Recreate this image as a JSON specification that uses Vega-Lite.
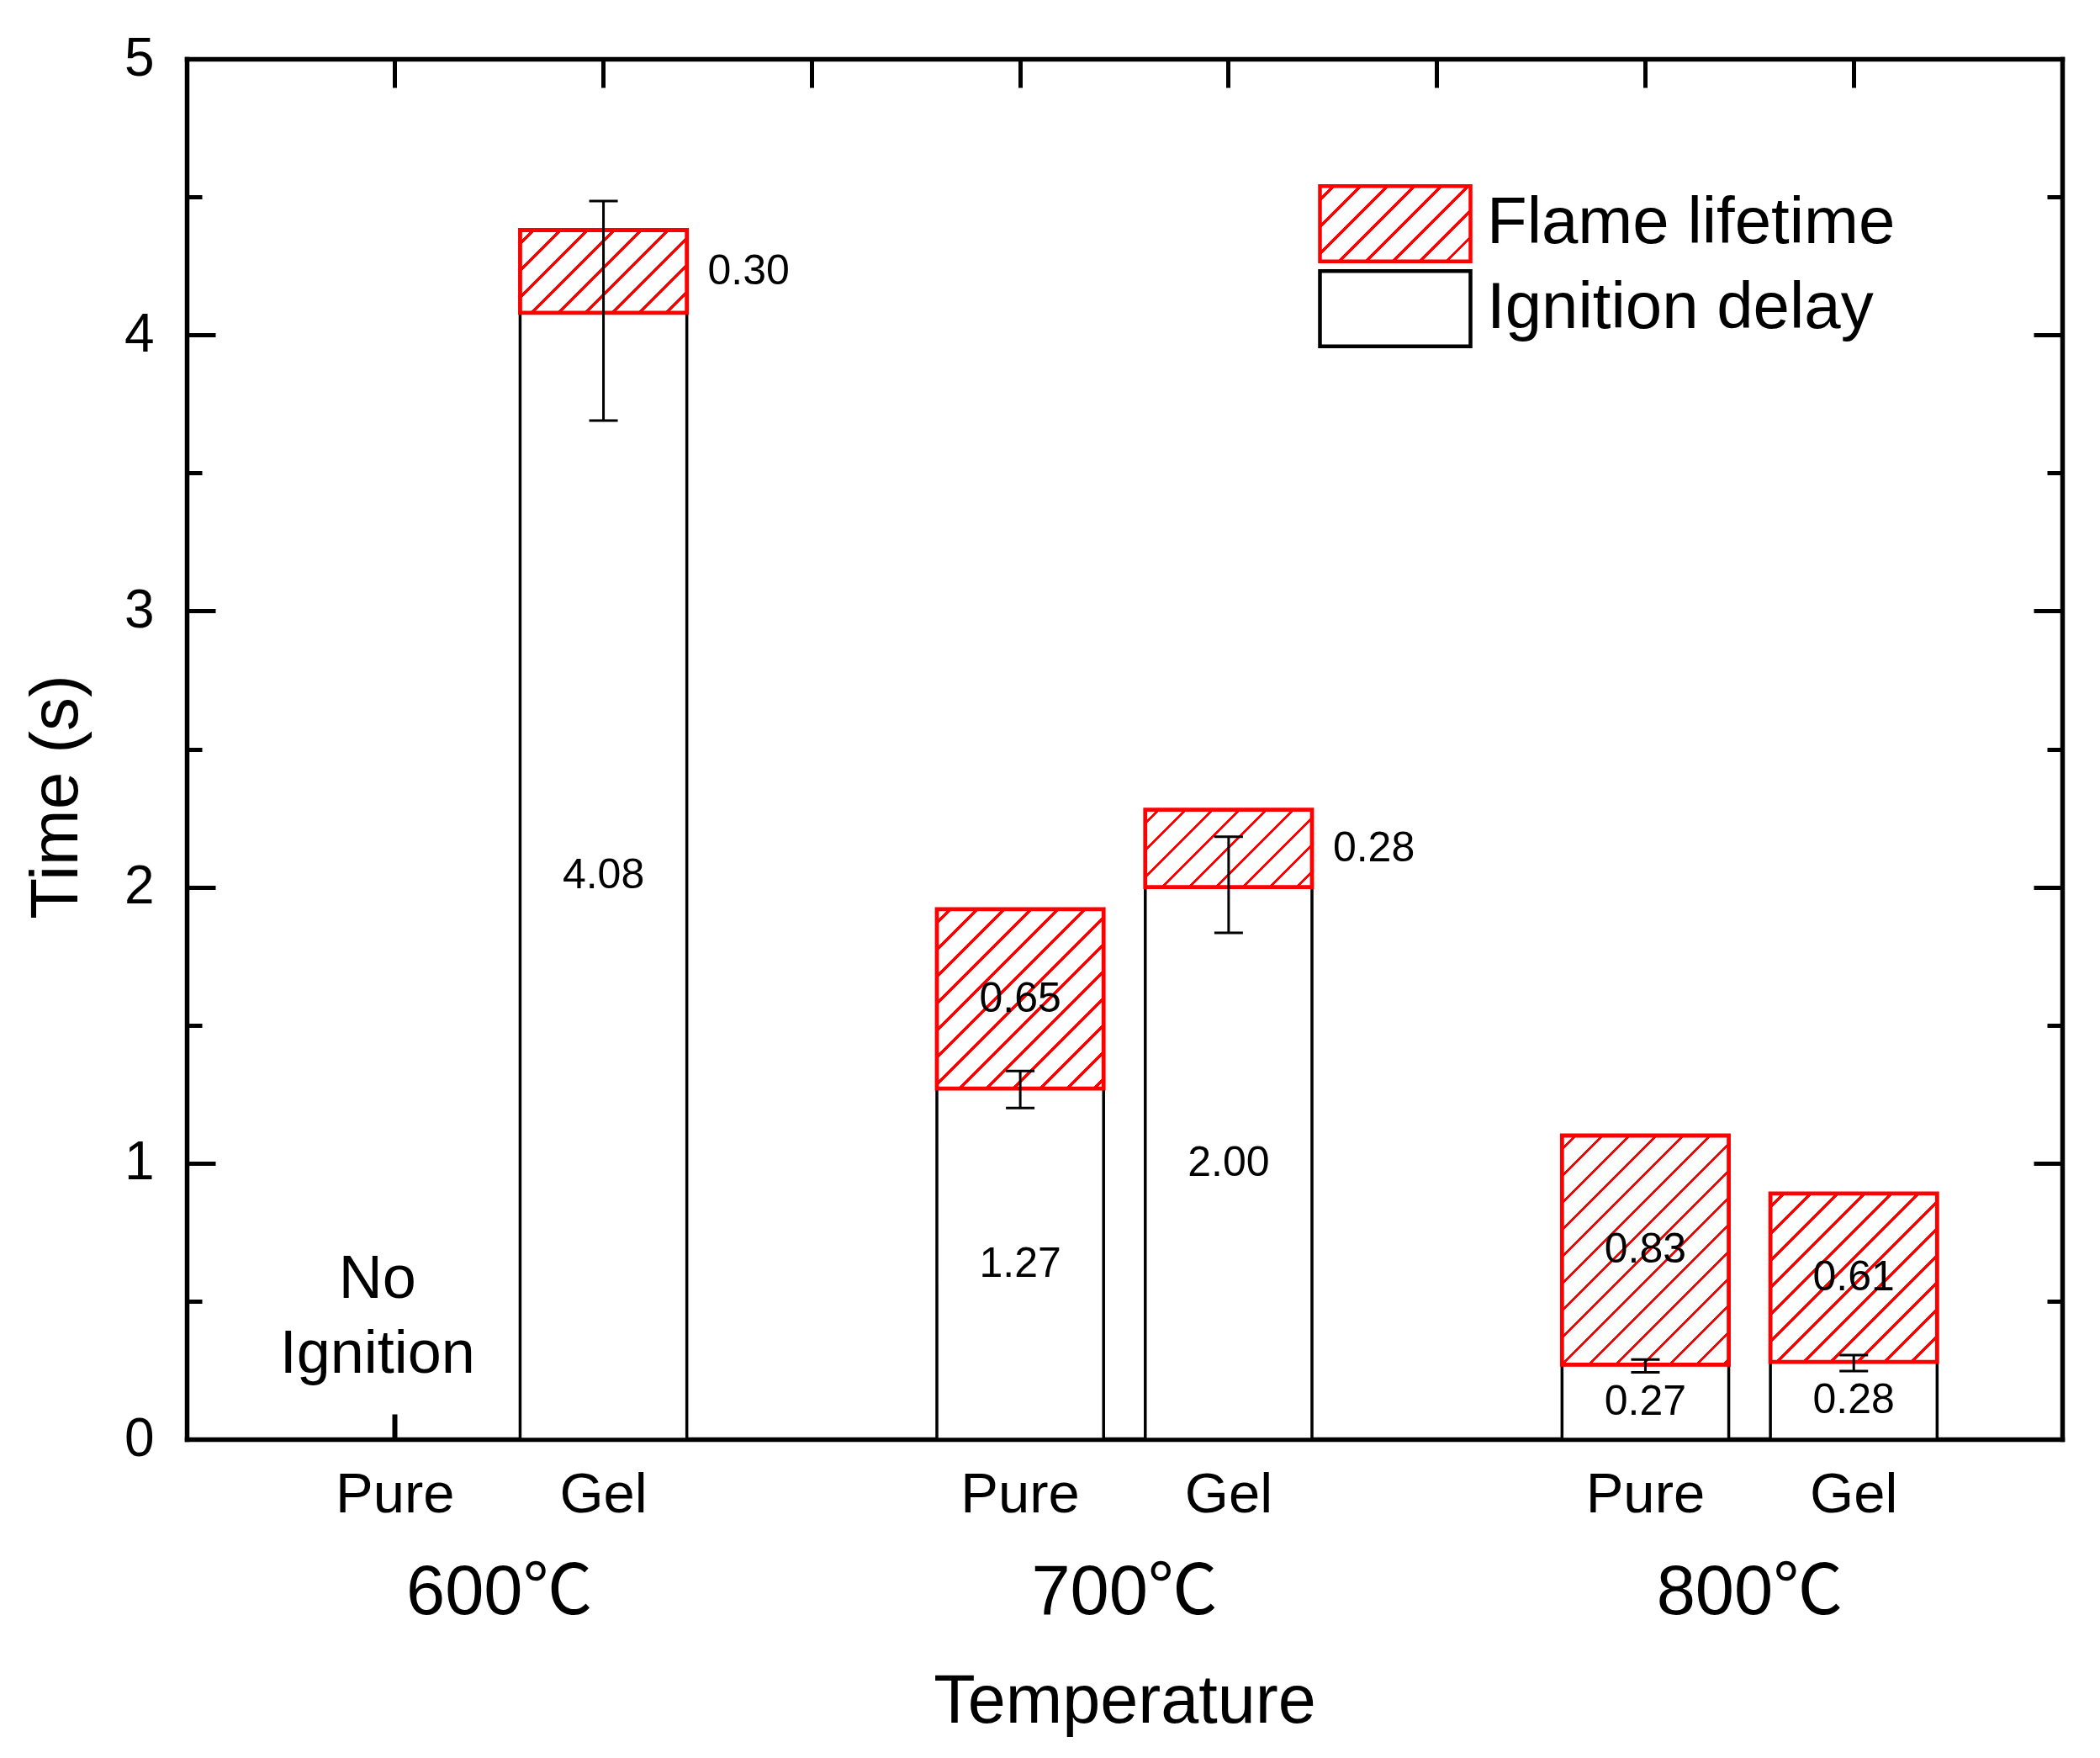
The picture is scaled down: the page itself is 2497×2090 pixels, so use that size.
{
  "$schema": "https://vega.github.io/schema/vega-lite/v6.json",
  "width": 2230,
  "height": 1641,
  "autosize": {"type": "none"},
  "padding": {"left": 222, "top": 70, "right": 45, "bottom": 379},
  "background": "white",
  "params": [
    {
      "name": "hatch",
      "value": [
        {"offset": 0.0268, "color": "#ffffff"}, {"offset": 0.0268, "color": "#ff0000"}, {"offset": 0.0357, "color": "#ff0000"}, {"offset": 0.0357, "color": "#ffffff"},
        {"offset": 0.0893, "color": "#ffffff"}, {"offset": 0.0893, "color": "#ff0000"}, {"offset": 0.0982, "color": "#ff0000"}, {"offset": 0.0982, "color": "#ffffff"},
        {"offset": 0.1518, "color": "#ffffff"}, {"offset": 0.1518, "color": "#ff0000"}, {"offset": 0.1607, "color": "#ff0000"}, {"offset": 0.1607, "color": "#ffffff"},
        {"offset": 0.2143, "color": "#ffffff"}, {"offset": 0.2143, "color": "#ff0000"}, {"offset": 0.2232, "color": "#ff0000"}, {"offset": 0.2232, "color": "#ffffff"},
        {"offset": 0.2768, "color": "#ffffff"}, {"offset": 0.2768, "color": "#ff0000"}, {"offset": 0.2857, "color": "#ff0000"}, {"offset": 0.2857, "color": "#ffffff"},
        {"offset": 0.3393, "color": "#ffffff"}, {"offset": 0.3393, "color": "#ff0000"}, {"offset": 0.3482, "color": "#ff0000"}, {"offset": 0.3482, "color": "#ffffff"},
        {"offset": 0.4018, "color": "#ffffff"}, {"offset": 0.4018, "color": "#ff0000"}, {"offset": 0.4107, "color": "#ff0000"}, {"offset": 0.4107, "color": "#ffffff"},
        {"offset": 0.4643, "color": "#ffffff"}, {"offset": 0.4643, "color": "#ff0000"}, {"offset": 0.4732, "color": "#ff0000"}, {"offset": 0.4732, "color": "#ffffff"},
        {"offset": 0.5268, "color": "#ffffff"}, {"offset": 0.5268, "color": "#ff0000"}, {"offset": 0.5357, "color": "#ff0000"}, {"offset": 0.5357, "color": "#ffffff"},
        {"offset": 0.5893, "color": "#ffffff"}, {"offset": 0.5893, "color": "#ff0000"}, {"offset": 0.5982, "color": "#ff0000"}, {"offset": 0.5982, "color": "#ffffff"},
        {"offset": 0.6518, "color": "#ffffff"}, {"offset": 0.6518, "color": "#ff0000"}, {"offset": 0.6607, "color": "#ff0000"}, {"offset": 0.6607, "color": "#ffffff"},
        {"offset": 0.7143, "color": "#ffffff"}, {"offset": 0.7143, "color": "#ff0000"}, {"offset": 0.7232, "color": "#ff0000"}, {"offset": 0.7232, "color": "#ffffff"},
        {"offset": 0.7768, "color": "#ffffff"}, {"offset": 0.7768, "color": "#ff0000"}, {"offset": 0.7857, "color": "#ff0000"}, {"offset": 0.7857, "color": "#ffffff"},
        {"offset": 0.8393, "color": "#ffffff"}, {"offset": 0.8393, "color": "#ff0000"}, {"offset": 0.8482, "color": "#ff0000"}, {"offset": 0.8482, "color": "#ffffff"},
        {"offset": 0.9018, "color": "#ffffff"}, {"offset": 0.9018, "color": "#ff0000"}, {"offset": 0.9107, "color": "#ff0000"}, {"offset": 0.9107, "color": "#ffffff"},
        {"offset": 0.9643, "color": "#ffffff"}, {"offset": 0.9643, "color": "#ff0000"}, {"offset": 0.9732, "color": "#ff0000"}, {"offset": 0.9732, "color": "#ffffff"}
      ]
    }
  ],
  "config": {
    "font": "Liberation Sans, Noto Sans CJK SC",
    "view": {"stroke": null},
    "axis": {
      "grid": false,
      "labelColor": "black",
      "tickColor": "black",
      "domainColor": "black",
      "titleColor": "black",
      "titleFontWeight": "normal",
      "labelFont": "Liberation Sans, Noto Sans CJK SC",
      "titleFont": "Liberation Sans",
      "domainCap": "square",
      "labelAngle": 0,
      "labelLimit": 0
    },
    "legend": {
      "orient": "none",
      "legendX": 1390,
      "legendY": 149,
      "padding": 0,
      "symbolType": "M-2,-1H2V1H-2Z",
      "symbolSize": 8010,
      "symbolStrokeWidth": 4.5,
      "labelFontSize": 78,
      "labelOffset": 62,
      "labelLimit": 0,
      "labelColor": "black",
      "labelFont": "Liberation Sans",
      "rowPadding": -8
    }
  },
  "datasets": {
    "bars": [
      {"temperature": "600℃", "sample": "Gel", "part": "Ignition delay", "value": 4.08},
      {"temperature": "600℃", "sample": "Gel", "part": "Flame lifetime", "value": 0.30},
      {"temperature": "700℃", "sample": "Pure", "part": "Ignition delay", "value": 1.27},
      {"temperature": "700℃", "sample": "Pure", "part": "Flame lifetime", "value": 0.65},
      {"temperature": "700℃", "sample": "Gel", "part": "Ignition delay", "value": 2.00},
      {"temperature": "700℃", "sample": "Gel", "part": "Flame lifetime", "value": 0.28},
      {"temperature": "800℃", "sample": "Pure", "part": "Ignition delay", "value": 0.27},
      {"temperature": "800℃", "sample": "Pure", "part": "Flame lifetime", "value": 0.83},
      {"temperature": "800℃", "sample": "Gel", "part": "Ignition delay", "value": 0.28},
      {"temperature": "800℃", "sample": "Gel", "part": "Flame lifetime", "value": 0.61}
    ],
    "errors": [
      {"temperature": "600℃", "sample": "Gel", "low": 3.69, "high": 4.485},
      {"temperature": "700℃", "sample": "Pure", "low": 1.20, "high": 1.334},
      {"temperature": "700℃", "sample": "Gel", "low": 1.834, "high": 2.182},
      {"temperature": "800℃", "sample": "Pure", "low": 0.242, "high": 0.289},
      {"temperature": "800℃", "sample": "Gel", "low": 0.247, "high": 0.305}
    ],
    "notes": [
      {"temperature": "600℃", "sample": "Pure", "note": "No Ignition"}
    ]
  },
  "layer": [
    {
      "data": {"name": "bars"},
      "transform": [
        {"calculate": "datum.temperature + ' ' + datum.sample", "as": "key"},
        {"stack": "value", "groupby": ["key"], "sort": [{"field": "part", "order": "descending"}], "as": ["lo", "hi"]}
      ],
      "mark": {
        "type": "bar",
        "strokeJoin": "miter",
        "fill": {"expr": "datum.part == 'Flame lifetime' ? {'gradient': 'linear', 'x1': 0, 'y1': 0, 'x2': 198 * 512 / (39204 + pow(scale('y', datum.lo) - scale('y', datum.hi), 2)), 'y2': (scale('y', datum.lo) - scale('y', datum.hi)) * 512 / (39204 + pow(scale('y', datum.lo) - scale('y', datum.hi), 2)), 'stops': hatch} : datum.value == 'Flame lifetime' ? {'gradient': 'linear', 'x1': 0, 'y1': 0, 'x2': 2.288, 'y2': 1.144, 'stops': hatch} : '#ffffff'"}
      },
      "encoding": {
        "x": {
          "field": "key",
          "type": "ordinal",
          "scale": {
            "domain": ["600℃ Pure", "600℃ Gel", "gap 1", "700℃ Pure", "700℃ Gel", "gap 2", "800℃ Pure", "800℃ Gel"],
            "paddingInner": 0.2,
            "paddingOuter": 0.6
          },
          "axis": {
            "orient": "bottom",
            "values": ["600℃ Pure", "600℃ Gel", "700℃ Pure", "700℃ Gel", "800℃ Pure", "800℃ Gel"],
            "labelExpr": "split(datum.value, ' ')[1]",
            "ticks": false,
            "labelFontSize": 67,
            "labelPadding": 86,
            "labelBaseline": "alphabetic",
            "domainWidth": 5.5,
            "title": null
          }
        },
        "y": {
          "field": "lo",
          "type": "quantitative",
          "scale": {"domain": [0, 5], "nice": false, "zero": true},
          "axis": {
            "orient": "left",
            "values": [0, 1, 2, 3, 4, 5],
            "ticks": false,
            "labelFontSize": 64,
            "labelPadding": 39,
            "labelBaseline": "middle",
            "domainWidth": 5.5,
            "title": "Time (s)",
            "titleFontSize": 80,
            "titleX": -131,
            "titleY": 877,
            "titleAngle": -90,
            "titleBaseline": "alphabetic",
            "titleAlign": "center"
          }
        },
        "y2": {"field": "hi"},
        "strokeWidth": {
          "condition": {"test": "datum.part == 'Flame lifetime'", "value": 4.8},
          "value": 3.5
        },
        "stroke": {
          "field": "part",
          "type": "nominal",
          "scale": {"domain": ["Flame lifetime", "Ignition delay"], "range": ["#ff0000", "#000000"]},
          "legend": {
            "title": null,
            "encode": {
              "symbols": {
                "fill": {"value": {"expr": "datum.value == 'Flame lifetime' ? {'gradient': 'linear', 'x1': 0, 'y1': 0, 'x2': 2.288, 'y2': 1.144, 'stops': hatch} : '#ffffff'"}},
                "opacity": {"value": 1},
                "strokeWidth": {"value": 4.5}
              }
            }
          }
        }
      }
    },
    {
      "data": {"name": "errors"},
      "transform": [{"calculate": "datum.temperature + ' ' + datum.sample", "as": "key"}],
      "mark": {"type": "rule", "strokeWidth": 3, "color": "black"},
      "encoding": {
        "x": {
          "field": "key",
          "type": "ordinal",
          "axis": {
            "orient": "bottom",
            "values": ["600℃ Pure", "600℃ Gel", "700℃ Pure", "700℃ Gel", "800℃ Pure", "800℃ Gel"],
            "labels": false,
            "domain": false,
            "tickSize": -30,
            "tickWidth": 6,
            "title": null
          }
        },
        "y": {
          "field": "low",
          "type": "quantitative",
          "axis": {
            "orient": "left",
            "values": [0, 1, 2, 3, 4, 5],
            "labels": false,
            "domain": false,
            "tickSize": -34,
            "tickWidth": 5,
            "title": null
          }
        },
        "y2": {"field": "high"}
      }
    },
    {
      "data": {"name": "errors"},
      "transform": [{"calculate": "datum.temperature + ' ' + datum.sample", "as": "key"}],
      "mark": {"type": "tick", "orient": "horizontal", "size": 34, "thickness": 3, "color": "black", "opacity": 1},
      "encoding": {
        "x": {
          "field": "key",
          "type": "ordinal",
          "axis": {
            "orient": "bottom",
            "values": ["600℃ Pure", "700℃ Pure", "800℃ Pure"],
            "labelExpr": "split(datum.value, ' ')[0]",
            "labelOffset": 124,
            "ticks": false,
            "domain": false,
            "labelFontSize": 83,
            "labelPadding": 207,
            "labelBaseline": "alphabetic",
            "title": "Temperature",
            "titleFontSize": 81,
            "titleY": 336,
            "titleBaseline": "alphabetic"
          }
        },
        "y": {
          "field": "low",
          "type": "quantitative",
          "axis": {
            "orient": "left",
            "values": [0.5, 1.5, 2.5, 3.5, 4.5],
            "labels": false,
            "domain": false,
            "tickSize": -18,
            "tickWidth": 5,
            "title": null
          }
        }
      }
    },
    {
      "data": {"name": "errors"},
      "transform": [{"calculate": "datum.temperature + ' ' + datum.sample", "as": "key"}],
      "mark": {"type": "tick", "orient": "horizontal", "size": 34, "thickness": 3, "color": "black", "opacity": 1},
      "encoding": {
        "x": {
          "field": "key",
          "type": "ordinal",
          "axis": {
            "orient": "top",
            "labels": false,
            "tickSize": -34,
            "tickWidth": 5,
            "domainWidth": 5.5,
            "title": null
          }
        },
        "y": {
          "field": "high",
          "type": "quantitative",
          "axis": {
            "orient": "right",
            "values": [0, 1, 2, 3, 4, 5],
            "labels": false,
            "tickSize": -34,
            "tickWidth": 5,
            "domainWidth": 5.5,
            "title": null
          }
        }
      }
    },
    {
      "data": {"name": "bars"},
      "transform": [
        {"calculate": "datum.temperature + ' ' + datum.sample", "as": "key"},
        {"stack": "value", "groupby": ["key"], "sort": [{"field": "part", "order": "descending"}], "as": ["lo", "hi"]},
        {"calculate": "(datum.lo + datum.hi) / 2", "as": "mid"}
      ],
      "mark": {
        "type": "text",
        "fontSize": 50,
        "color": "black",
        "baseline": "middle",
        "align": {"expr": "datum.part == 'Flame lifetime' && datum.value < 0.5 ? 'left' : 'center'"},
        "dx": {"expr": "datum.part == 'Flame lifetime' && datum.value < 0.5 ? 124 : 0"}
      },
      "encoding": {
        "x": {"field": "key", "type": "ordinal", "axis": null},
        "y": {
          "field": "mid",
          "type": "quantitative",
          "axis": {
            "orient": "right",
            "values": [0.5, 1.5, 2.5, 3.5, 4.5],
            "labels": false,
            "domain": false,
            "tickSize": -18,
            "tickWidth": 5,
            "title": null
          }
        },
        "text": {"field": "value", "type": "quantitative", "format": ".2f"}
      }
    },
    {
      "data": {"name": "notes"},
      "transform": [{"calculate": "datum.temperature + ' ' + datum.sample", "as": "key"}],
      "mark": {"type": "text", "fontSize": 72, "lineHeight": 89, "lineBreak": " ", "color": "black", "baseline": "middle", "align": "center", "dx": -21},
      "encoding": {
        "x": {"field": "key", "type": "ordinal", "axis": null},
        "y": {"datum": 0.58, "type": "quantitative", "axis": null},
        "text": {"field": "note"}
      }
    }
  ],
  "resolve": {"axis": {"x": "independent", "y": "independent"}}
}
